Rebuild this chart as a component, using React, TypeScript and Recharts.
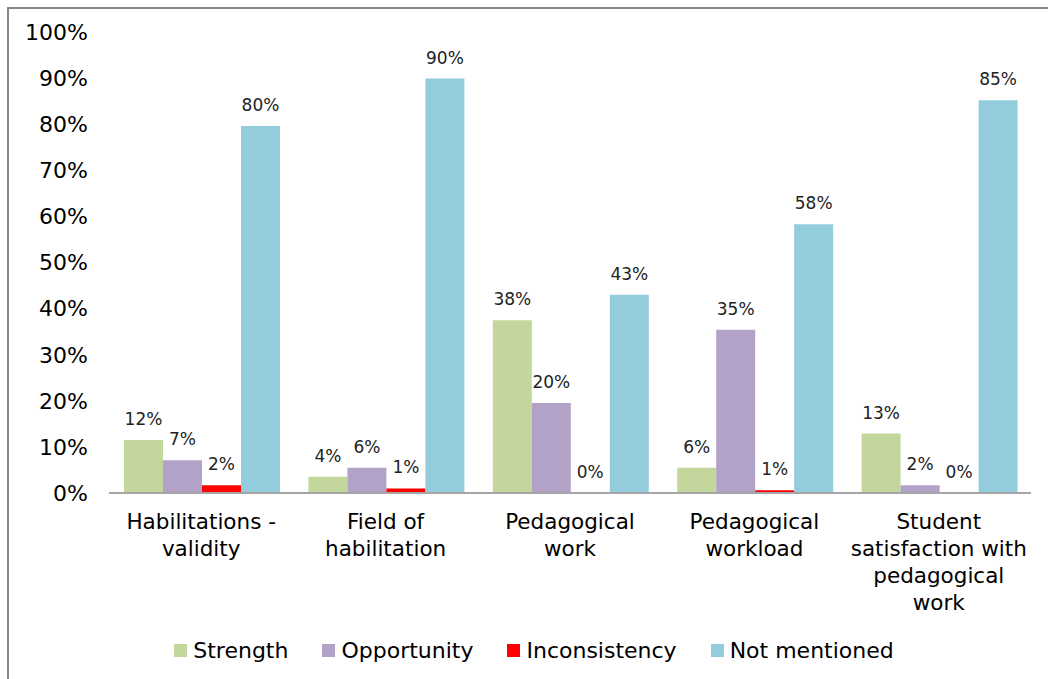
import React from 'react';
import { BarChart, Bar, XAxis, YAxis, LabelList } from 'recharts';

const categories = [
  'Habilitations -\nvalidity',
  'Field of\nhabilitation',
  'Pedagogical\nwork',
  'Pedagogical\nworkload',
  'Student\nsatisfaction with\npedagogical\nwork',
];
const strength = [11.5, 3.5, 37.5, 5.5, 12.9];
const opportunity = [7.1, 5.5, 19.5, 35.4, 1.7];
const inconsistency = [1.7, 1.0, 0, 0.6, 0];
const notMentioned = [79.6, 89.9, 43.0, 58.3, 85.2];
const yTicks = [0, 10, 20, 30, 40, 50, 60, 70, 80, 90, 100];

const SERIES = [
  { key: 'strength', name: 'Strength', color: '#c3d69b' },
  { key: 'opportunity', name: 'Opportunity', color: '#b2a2c7' },
  { key: 'inconsistency', name: 'Inconsistency', color: '#ff0000' },
  { key: 'notMentioned', name: 'Not mentioned', color: '#93cddd' },
];

const FONT = '"DejaVu Sans", Verdana, sans-serif';

const chartData = categories.map((cat, i) => ({
  cat,
  strength: strength[i],
  opportunity: opportunity[i],
  inconsistency: inconsistency[i],
  notMentioned: notMentioned[i],
}));

const CategoryTick = ({ x, y, payload }: any) => {
  const lines = String(payload.value).split('\n');
  return (
    <text x={x} y={y} textAnchor="middle" fontSize={21.5} fontFamily={FONT} fill="#000">
      {lines.map((line, i) => (
        <tspan key={i} x={x} dy={i === 0 ? 28 : 27}>
          {line}
        </tspan>
      ))}
    </text>
  );
};

const LegendRow = () => (
  <div
    style={{
      position: 'absolute',
      left: 5,
      top: 629,
      width: 1040,
      display: 'flex',
      justifyContent: 'center',
      fontFamily: FONT,
      fontSize: 22,
      color: '#000',
    }}
  >
    {SERIES.map((s, i) => (
      <div
        key={s.key}
        style={{ display: 'flex', alignItems: 'center', marginRight: i === SERIES.length - 1 ? 0 : 34 }}
      >
        <span style={{ width: 13, height: 13, background: s.color, display: 'inline-block', marginRight: 6 }} />
        <span>{s.name}</span>
      </div>
    ))}
  </div>
);

export default function App() {
  return (
    <div
      style={{
        position: 'absolute',
        left: 7,
        top: 7,
        width: 1041,
        height: 672,
        borderTop: '2px solid #878787',
        borderLeft: '2px solid #878787',
        background: '#fff',
        overflow: 'hidden',
      }}
    >
      <BarChart
        width={1036}
        height={660}
        data={chartData}
        margin={{ top: 23, right: 14, bottom: 0, left: 0 }}
        barCategoryGap={15}
        barGap={0}
      >
        <XAxis
          dataKey="cat"
          tick={<CategoryTick />}
          tickLine={false}
          axisLine={{ stroke: '#a6a6a6', strokeWidth: 2 }}
          interval={0}
          height={176}
        />
        <YAxis
          domain={[0, 100]}
          ticks={yTicks}
          tickFormatter={(v) => `${v}%`}
          axisLine={false}
          tickLine={false}
          width={100}
          tickMargin={15}
          tick={{ fontSize: 22, fontFamily: FONT, fill: '#000' }}
        />
        {SERIES.map((s) => (
          <Bar
            key={s.key}
            dataKey={s.key}
            name={s.name}
            fill={s.color}
            minPointSize={(v: any) => (Number(v) === 0 ? 0.01 : 0)}
            isAnimationActive={false}
          >
            <LabelList
              dataKey={s.key}
              position="top"
              offset={15}
              formatter={(v: any) => `${Math.round(Number(v))}%`}
              style={{ fontSize: 17, fontFamily: FONT, fill: '#222' }}
            />
          </Bar>
        ))}
      </BarChart>
      <LegendRow />
    </div>
  );
}
